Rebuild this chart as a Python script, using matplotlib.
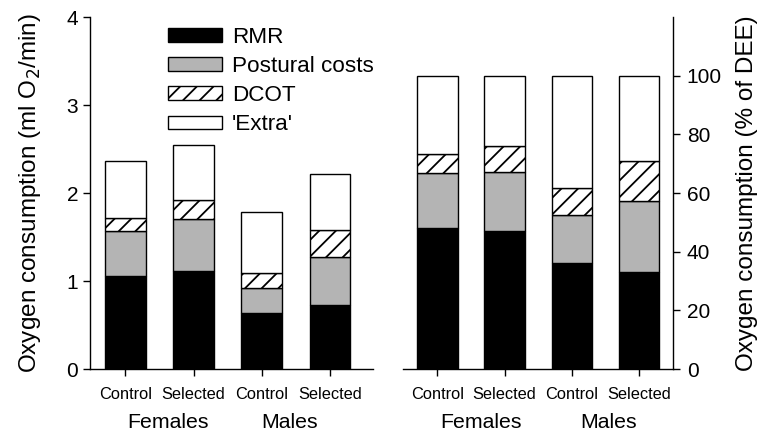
import numpy as np
import matplotlib
matplotlib.use('Agg')
import matplotlib.pyplot as plt
from matplotlib.patches import Patch

plt.rcParams['font.family'] = ['Liberation Sans', 'DejaVu Sans']
plt.rcParams['hatch.linewidth'] = 1.3

# ── DATA ────────────────────────────────────────────────────────────────────
TICK_LABELS = ["Control", "Selected", "Control", "Selected"]
GROUPS = ["Females", "Males"]

# absolute oxygen consumption (ml O2/min)
rmr_abs      = [1.06, 1.11, 0.64, 0.73]
postural_abs = [0.51, 0.59, 0.28, 0.54]
dcot_abs     = [0.15, 0.22, 0.17, 0.31]
extra_abs    = [0.64, 0.62, 0.69, 0.64]

# percent of DEE
rmr_pct      = [48.1, 47.1, 36.3, 33.1]
postural_pct = [18.7, 20.2, 16.1, 24.3]
dcot_pct     = [6.6, 8.8, 9.4, 13.4]
extra_pct    = [26.6, 23.9, 38.2, 29.2]

GREY = '#b4b4b4'
STYLES = [
    ("RMR",            dict(facecolor='black', edgecolor='black')),
    ("Postural costs", dict(facecolor=GREY, edgecolor='black')),
    ("DCOT",           dict(facecolor='white', edgecolor='black', hatch='//')),
    ("'Extra'",        dict(facecolor='white', edgecolor='black')),
]


def stacked(ax, layers):
    x = np.arange(len(TICK_LABELS))
    bottom = np.zeros(len(x))
    for vals, (label, st) in zip(layers, STYLES):
        ax.bar(x, vals, width=0.6, bottom=bottom, linewidth=1.0, label=label, **st)
        bottom += np.array(vals)
    ax.set_xticks(x)
    ax.set_xticklabels(TICK_LABELS, fontsize=11.8)
    ax.tick_params(axis='x', length=5, width=1, pad=8)
    for s in ax.spines.values():
        s.set_linewidth(1.0)


fig = plt.figure(figsize=(7.57, 4.33), dpi=100)
ax1 = fig.add_axes([0.1189, 0.1478, 0.3738, 0.8129])
ax2 = fig.add_axes([0.5324, 0.1478, 0.3563, 0.8129])

# left panel
stacked(ax1, [rmr_abs, postural_abs, dcot_abs, extra_abs])
ax1.set_xlim(-0.52, 3.63)
ax1.set_ylim(0, 4)
ax1.set_yticks([0, 1, 2, 3, 4])
ax1.tick_params(axis='y', labelsize=15, length=5, width=1)
ax1.spines['top'].set_visible(False)
ax1.spines['right'].set_visible(False)
ax1.set_ylabel("Oxygen consumption (ml O$_2$/min)", fontsize=17.5, labelpad=17)
handles = [Patch(label=l, linewidth=1.0, **st) for l, st in STYLES]
ax1.legend(handles=handles, loc='upper left', bbox_to_anchor=(0.228, 1.01),
           frameon=False, fontsize=16.2, handlelength=2.4, handleheight=0.55,
           labelspacing=0.36, handletextpad=0.45, borderaxespad=0.2)

# right panel
stacked(ax2, [rmr_pct, postural_pct, dcot_pct, extra_pct])
ax2.set_xlim(-0.51, 3.5)
ax2.set_ylim(0, 120)
ax2.set_yticks([0, 20, 40, 60, 80, 100])
ax2.yaxis.tick_right()
ax2.yaxis.set_label_position('right')
ax2.tick_params(axis='y', labelsize=15, length=5, width=1, pad=5)
ax2.spines['top'].set_visible(False)
ax2.spines['left'].set_visible(False)
ax2.set_ylabel("Oxygen consumption (% of DEE)", fontsize=17.5, labelpad=10)

# group labels
for ax, xs in ((ax1, [0.63, 2.41]), (ax2, [0.65, 2.54])):
    for xg, g in zip(xs, GROUPS):
        ax.text(xg, -0.152, g, transform=ax.get_xaxis_transform(),
                ha='center', va='center', fontsize=15.3)

fig.savefig('out.png', dpi=100)
